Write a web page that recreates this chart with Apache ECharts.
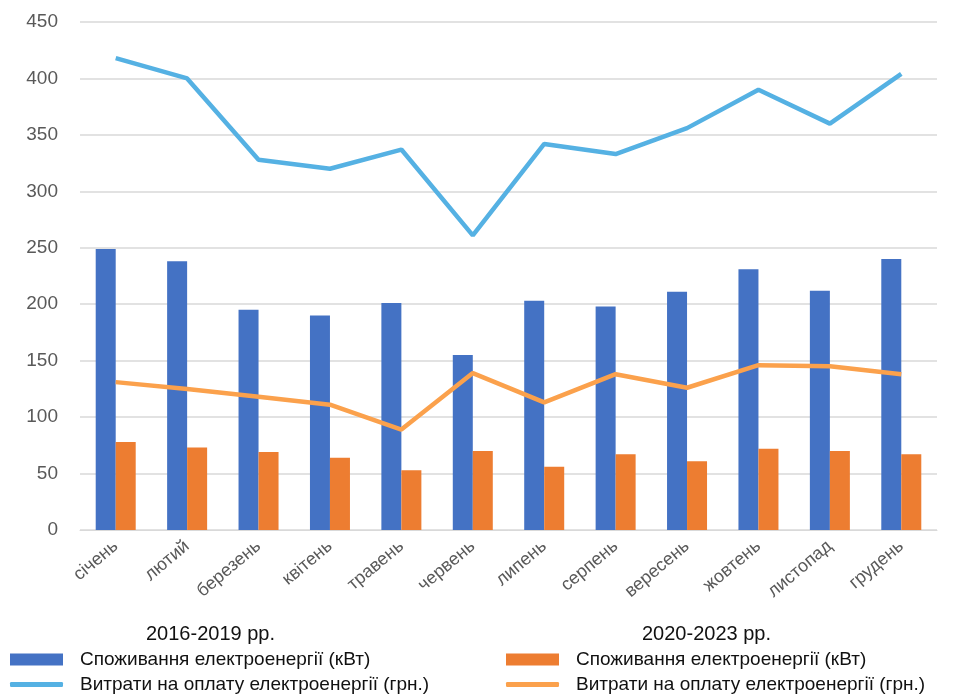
<!DOCTYPE html>
<html>
<head>
<meta charset="utf-8">
<script src="https://cdn.jsdelivr.net/npm/echarts@6/dist/echarts.min.js"></script>
<style>
  html, body { margin: 0; padding: 0; background: #fff; }
  #chart { width: 955px; height: 695px; }
</style>
</head>
<body>
<div id="chart"></div>
<script>
const months = ['січень', 'лютий', 'березень', 'квітень', 'травень', 'червень', 'липень', 'серпень', 'вересень', 'жовтень', 'листопад', 'грудень'];
const yTicks = [0, 50, 100, 150, 200, 250, 300, 350, 400, 450];

// 2016-2019
const consumptionA = [249, 238, 195, 190, 201, 155, 203, 198, 211, 231, 212, 240];
const costA = [418, 400, 328, 320, 337, 261, 342, 333, 356, 390, 360, 404];
// 2020-2023
const consumptionB = [78, 73, 69, 64, 53, 70, 56, 67, 61, 72, 70, 67];
const costB = [131, 125, 118, 111, 89, 139, 113, 138, 126, 146, 145, 138];

const groupA = '2016-2019 рр.';
const groupB = '2020-2023 рр.';
const nameConsumption = 'Споживання електроенергії (кВт)';
const nameCost = 'Витрати на оплату електроенергії (грн.)';

const chart = echarts.init(document.getElementById('chart'));
const font = "'Liberation Sans', Arial, sans-serif";

// one legend per entry so every row sits where the reference has it
function legendItem(name, left, top, isLine) {
  return {
    left: left,
    top: top,
    padding: 0,
    itemWidth: 53,
    itemHeight: isLine ? 5 : 12,
    icon: isLine ? 'roundRect' : 'rect',
    data: [name],
    textStyle: { fontSize: 19, color: '#111', fontFamily: font, padding: [0, 0, 0, 12] },
    formatter: n => n.split('|')[0]
  };
}

chart.setOption({
  animation: false,
  title: [
    { text: groupA, left: 146, top: 624, padding: 0, textStyle: { fontSize: 20, fontWeight: 'normal', color: '#111', fontFamily: font } },
    { text: groupB, left: 642, top: 624, padding: 0, textStyle: { fontSize: 20, fontWeight: 'normal', color: '#111', fontFamily: font } }
  ],
  legend: [
    legendItem(nameConsumption + '|A', 10, 650, false),
    legendItem(nameCost + '|A', 10, 675, true),
    legendItem(nameConsumption + '|B', 506, 650, false),
    legendItem(nameCost + '|B', 506, 675, true)
  ],
  grid: { left: 80, right: 18, top: 22, bottom: 165 },
  xAxis: {
    type: 'category',
    data: months,
    axisTick: { show: false },
    axisLine: { lineStyle: { color: '#d9d9d9' } },
    axisLabel: { rotate: 40, fontSize: 18, color: '#595959', margin: 14, interval: 0, fontFamily: font }
  },
  yAxis: {
    type: 'value',
    min: yTicks[0],
    max: yTicks[yTicks.length - 1],
    interval: 50,
    axisLabel: { fontSize: 19, color: '#595959', margin: 22, fontFamily: font },
    splitLine: { lineStyle: { color: '#d9d9d9', width: 1.5 } }
  },
  series: [
    {
      name: nameConsumption + '|A',
      type: 'bar',
      data: consumptionA,
      barWidth: 20,
      barGap: '0%',
      itemStyle: { color: '#4472C4' }
    },
    {
      name: nameConsumption + '|B',
      type: 'bar',
      data: consumptionB,
      barWidth: 20,
      barGap: '0%',
      itemStyle: { color: '#ED7D31' }
    },
    {
      name: nameCost + '|A',
      type: 'line',
      data: costA,
      symbol: 'none',
      lineStyle: { color: '#55B1E3', width: 4.5 },
      itemStyle: { color: '#55B1E3' }
    },
    {
      name: nameCost + '|B',
      type: 'line',
      data: costB,
      symbol: 'none',
      lineStyle: { color: '#FBA14C', width: 4.5 },
      itemStyle: { color: '#FBA14C' }
    }
  ]
});
</script>
</body>
</html>
